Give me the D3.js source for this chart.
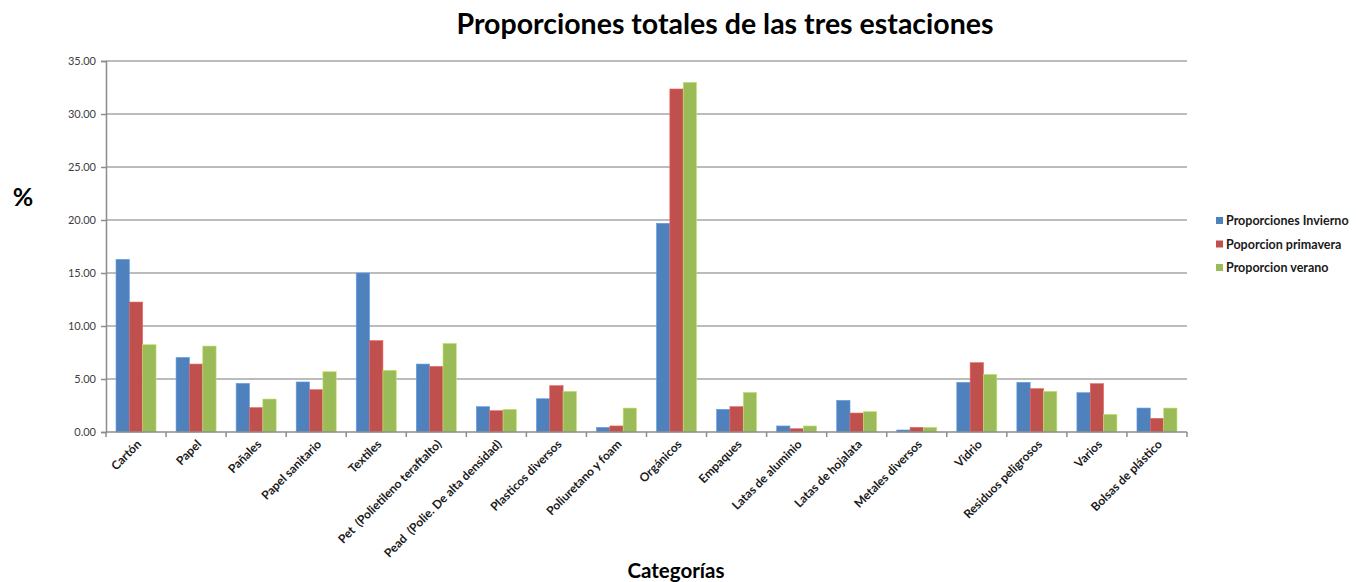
<!DOCTYPE html>
<html>
<head>
<meta charset="utf-8">
<script src="https://cdn.jsdelivr.net/npm/d3@7"></script>
<style>
  body { margin: 0; background: #fff; }
  text { font-family: Lato, "Open Sans", sans-serif; white-space: pre; }
</style>
</head>
<body>
<div id="chart"></div>
<script>
// categories and series
var categories = ["Cartón", "Papel", "Pañales", "Papel sanitario", "Textiles",
    "Pet  (Polietileno teraftalto)", "Pead  (Polie. De alta densidad)", "Plasticos diversos",
    "Poliuretano y foam", "Orgánicos", "Empaques", "Latas de aluminio", "Latas de hojalata",
    "Metales diversos", "Vidrio", "Residuos peligrosos", "Varios", "Bolsas de plástico"];

var invierno  = [16.29, 7.04, 4.59, 4.72, 15.00, 6.41, 2.39, 3.14, 0.44, 19.69, 2.14, 0.57, 2.99, 0.19, 4.69, 4.69, 3.71, 2.26];
var primavera = [12.26, 6.41, 2.30, 3.99, 8.62, 6.19, 2.01, 4.37, 0.57, 32.36, 2.39, 0.31, 1.79, 0.44, 6.54, 4.09, 4.56, 1.29];
var verano    = [8.24, 8.11, 3.11, 5.69, 5.82, 8.36, 2.14, 3.84, 2.26, 32.99, 3.74, 0.57, 1.92, 0.44, 5.44, 3.84, 1.67, 2.26];

var seriesNames = ["Proporciones Invierno", "Poporcion primavera", "Proporcion verano"];
var seriesColors = ["#4f81bd", "#c0504d", "#9bbb59"];
var yTicks = [0, 5, 10, 15, 20, 25, 30, 35];

var W = 1356, H = 582;
var plot = {left: 106, right: 1187, top: 61, bottom: 432};

var svg = d3.select("#chart").append("svg")
    .attr("width", W)
    .attr("height", H);

var x = d3.scaleBand()
    .domain(categories)
    .range([plot.left, plot.right]);

var sub = d3.scaleBand()
    .domain(d3.range(3))
    .range([0, x.bandwidth()])
    .paddingInner(0)
    .paddingOuter(0.75); // excel gap width 150%

var y = d3.scaleLinear()
    .domain([0, 35])
    .range([plot.bottom, plot.top]);

// gridlines
svg.append("g")
    .selectAll("line")
    .data(yTicks.slice(1))
    .enter()
    .append("line")
    .attr("x1", plot.left)
    .attr("x2", plot.right)
    .attr("y1", function(d) { return y(d); })
    .attr("y2", function(d) { return y(d); })
    .attr("stroke", "#a6a6a6")
    .attr("stroke-width", 1.5);

// bars
var data = [invierno, primavera, verano];
data.forEach(function(vals, s) {
    svg.append("g")
        .selectAll("rect")
        .data(vals)
        .enter()
        .append("rect")
        .attr("x", function(d, i) { return x(categories[i]) + sub(s); })
        .attr("y", function(d) { return y(d); })
        .attr("width", sub.bandwidth())
        .attr("height", function(d) { return y(0) - y(d); })
        .attr("fill", seriesColors[s])
        .attr("stroke", d3.color(seriesColors[s]).brighter(0.6))
        .attr("stroke-width", 0.6);
});

// y axis
var yAxis = svg.append("g")
    .attr("transform", "translate(" + plot.left + ",0)")
    .call(d3.axisLeft(y).tickValues(yTicks).tickFormat(d3.format(".2f")).tickSize(5));
yAxis.select(".domain").attr("stroke", "#8c8c8c").attr("stroke-width", 1.5);
yAxis.selectAll(".tick line").attr("stroke", "#8c8c8c").attr("stroke-width", 1.5);
yAxis.selectAll(".tick text")
    .attr("x", -10)
    .attr("font-family", "Lato, sans-serif")
    .attr("font-size", 11)
    .attr("fill", "#404040");

// x axis line and tick marks between categories
svg.append("line")
    .attr("x1", plot.left).attr("x2", plot.right)
    .attr("y1", plot.bottom).attr("y2", plot.bottom)
    .attr("stroke", "#8c8c8c").attr("stroke-width", 1.5);

svg.append("g")
    .selectAll("line")
    .data(categories.concat(["__end"]))
    .enter()
    .append("line")
    .attr("x1", function(d, i) { return plot.left + i * x.step(); })
    .attr("x2", function(d, i) { return plot.left + i * x.step(); })
    .attr("y1", plot.bottom)
    .attr("y2", plot.bottom + 5)
    .attr("stroke", "#8c8c8c")
    .attr("stroke-width", 1.5);

// category labels
svg.append("g")
    .selectAll("text")
    .data(categories)
    .enter()
    .append("text")
    .attr("text-anchor", "end")
    .attr("font-size", 12)
    .attr("font-weight", "bold")
    .attr("fill", "#1a1a1a")
    .attr("transform", function(d) {
        return "translate(" + (x(d) + x.bandwidth() / 2 + 6) + "," + (plot.bottom + 13) + ") rotate(-45)";
    })
    .text(function(d) { return d; });

// title and axis titles
svg.append("text")
    .attr("x", 725)
    .attr("y", 34)
    .attr("text-anchor", "middle")
    .attr("font-size", 28.5)
    .attr("font-weight", "bold")
    .text("Proporciones totales de las tres estaciones");

svg.append("text")
    .attr("x", 23)
    .attr("y", 206)
    .attr("text-anchor", "middle")
    .attr("font-size", 25)
    .attr("font-weight", "bold")
    .text("%");

svg.append("text")
    .attr("x", 676)
    .attr("y", 578)
    .attr("text-anchor", "middle")
    .attr("font-size", 20.5)
    .attr("font-weight", "bold")
    .text("Categorías");

// legend
var legend = svg.append("g")
    .attr("transform", "translate(1216,221)");

var item = legend.selectAll("g")
    .data(seriesNames)
    .enter()
    .append("g")
    .attr("transform", function(d, i) { return "translate(0," + (i * 23.5) + ")"; });

item.append("rect")
    .attr("x", 0).attr("y", -4)
    .attr("width", 7).attr("height", 7)
    .attr("fill", function(d, i) { return seriesColors[i]; });

item.append("text")
    .attr("x", 10)
    .attr("y", 4)
    .attr("font-size", 12.5)
    .attr("font-weight", "bold")
    .attr("fill", "#1a1a1a")
    .text(function(d) { return d; });
</script>
</body>
</html>
